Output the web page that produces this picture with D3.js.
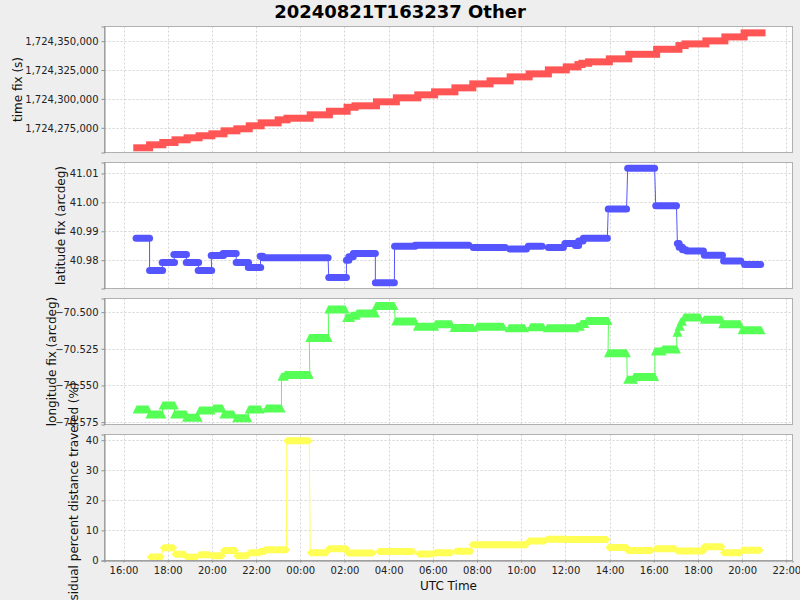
<!DOCTYPE html>
<html><head><meta charset="utf-8">
<script src="https://cdn.jsdelivr.net/npm/d3@7"></script>
<style>
body{margin:0;background:#eeeeee;}
svg{display:block;font-family:"DejaVu Sans",sans-serif;}
</style>
</head><body>
<svg id="chart" width="800" height="600"></svg>
<script>
// ---------------- DATA (x = hours since 2024-08-21 00:00 UTC) ----------------
const chartTitle = "20240821T163237 Other";
const xLabel = "UTC Time";
const yLabels = ["time fix (s)", "latitude fix (arcdeg)", "longitude fix (arcdeg)", "residual percent distance traveled (%)"];

// time fix (s): step segments [start hour, end hour, value]
const timeFixStart = [16.60,17.18,17.78,18.33,18.88,19.42,20.00,20.55,21.13,21.69,22.23,23.00,23.40,24.45,25.32,26.12,26.48,27.45,28.35,29.32,30.08,31.00,31.81,32.59,33.50,34.36,35.23,36.04,36.57,36.75,37.05,37.99,38.87,40.13,41.14,41.42,42.36,43.22,44.09];
const timeFixEnd   = [17.18,17.78,18.33,18.88,19.42,20.00,20.55,21.13,21.69,22.23,23.00,23.40,24.45,25.32,26.12,26.48,27.45,28.35,29.32,30.08,31.00,31.81,32.59,33.50,34.36,35.23,36.04,36.57,36.75,37.05,37.99,38.87,40.13,41.14,41.42,42.36,43.22,44.09,44.90];
const timeFixValue = [1724257700,1724260300,1724262300,1724264600,1724266350,1724268100,1724269800,1724272400,1724274150,1724276750,1724279300,1724281900,1724283300,1724286250,1724289350,1724292800,1724294050,1724297500,1724300950,1724303550,1724306150,1724309600,1724313050,1724315650,1724319100,1724321700,1724325150,1724327750,1724329750,1724330900,1724332100,1724334700,1724338650,1724343000,1724346200,1724347650,1724350250,1724353700,1724357200];

// latitude fix (arcdeg)
const latStart = [16.57,17.18,17.75,18.28,18.84,19.38,19.97,20.50,21.10,21.65,22.19,22.30,25.29,26.09,26.20,26.40,27.40,28.27,29.20,31.83,33.49,34.32,35.23,35.98,36.45,36.60,36.81,37.94,38.82,40.09,41.07,41.15,41.30,41.49,42.29,43.16,44.11];
const latEnd   = [17.18,17.77,18.31,18.85,19.40,19.99,20.53,21.10,21.66,22.21,22.30,25.26,26.09,26.20,26.40,27.40,28.26,29.20,31.63,33.28,34.24,34.95,35.91,36.45,36.60,36.80,37.90,38.77,40.04,41.03,41.15,41.30,41.45,42.25,43.11,43.94,44.84];
const latValue = [40.9876,40.9764,40.9792,40.9820,40.9792,40.9764,40.9816,40.9823,40.9792,40.9775,40.9814,40.9808,40.9740,40.9800,40.9812,40.9823,40.9722,40.9848,40.9852,40.9844,40.9839,40.9848,40.9844,40.9858,40.9851,40.9866,40.9876,40.9977,41.0118,40.9988,40.9858,40.9845,40.9836,40.9832,40.9817,40.9797,40.9785];

// longitude fix (arcdeg)
const lonStart = [16.59,17.17,17.77,18.29,18.83,19.43,20.07,20.52,21.10,21.67,22.46,23.15,23.30,24.41,25.27,26.08,26.30,26.56,27.42,28.30,29.28,30.11,30.94,31.99,33.44,34.42,35.17,36.50,36.70,36.96,37.93,38.80,39.10,40.05,40.40,41.03,41.12,41.22,41.36,42.27,43.10,43.98];
const lonEnd   = [17.13,17.76,18.32,18.85,19.40,19.98,20.48,20.99,21.64,22.20,23.15,23.30,24.43,25.28,26.05,26.30,26.55,27.42,28.26,29.22,30.10,30.85,31.84,33.20,34.17,35.01,36.44,36.70,36.90,37.95,38.78,39.10,40.06,40.40,41.05,41.12,41.22,41.32,42.10,43.09,43.92,44.87];
const lonValue = [-70.5663,-70.5697,-70.5636,-70.5697,-70.5720,-70.5671,-70.5657,-70.5697,-70.5724,-70.5663,-70.5657,-70.5440,-70.5429,-70.5176,-70.4982,-70.5040,-70.5025,-70.5009,-70.4958,-70.5063,-70.5100,-70.5082,-70.5108,-70.5099,-70.5110,-70.5103,-70.5110,-70.5100,-70.5080,-70.5061,-70.5280,-70.5461,-70.5443,-70.5268,-70.5254,-70.5140,-70.5100,-70.5065,-70.5037,-70.5052,-70.5083,-70.5123];

// residual percent distance traveled (%)
const resStart = [17.20,17.80,18.33,18.86,19.43,19.99,20.52,21.12,21.70,22.18,22.40,23.39,24.45,25.28,26.14,27.55,29.36,30.11,31.02,31.77,34.34,35.17,36.00,37.97,38.80,40.08,41.06,42.27,43.15,44.01];
const resEnd   = [17.71,18.27,18.77,19.30,19.90,20.48,21.07,21.60,22.17,22.40,23.38,24.41,25.19,26.10,27.30,29.12,30.02,30.85,31.73,34.25,35.08,36.00,37.88,38.78,39.91,40.97,42.26,43.09,43.92,44.82];
const resValue = [1.2,4.2,2.1,1.1,1.9,1.6,3.3,1.6,2.6,3.0,3.6,39.8,2.6,3.9,2.5,3.0,2.2,2.6,3.1,5.2,6.5,7.1,7.0,4.3,3.3,3.9,3.2,4.55,2.6,3.4];

// axis ranges and tick values
const xRangeHours = [15.14, 46.28];
const timeFixRange = [1724253633, 1724362716];
const timeFixTicks = [1724275000, 1724300000, 1724325000, 1724350000];
const latRange = [40.9702, 41.0138];
const latTicks = [40.98, 40.99, 41.00, 41.01];
const lonRange = [-70.5766, -70.4907];
const lonTicks = [-70.575, -70.550, -70.525, -70.500];
const resRange = [0, 41.9];
const resTicks = [0, 10, 20, 30, 40];

// ---------------- DRAWING ----------------
const svg = d3.select("#chart");
const base = Date.UTC(2024, 7, 21);
const toDate = h => new Date(base + h * 3600000);
const L = 104.5, R = 792.5;
const x = d3.scaleUtc().domain(xRangeHours.map(toDate)).range([L, R]);
const xTicks = x.ticks(d3.utcHour.every(2));
const fmtX = d3.utcFormat("%H:%M");

const panels = [
  {top:26.5, bottom:152.5, range:timeFixRange, ticks:timeFixTicks, fmt:d3.format(",d"), label:yLabels[0], labelX:18,
   s:timeFixStart, e:timeFixEnd, v:timeFixValue, color:"#ff5555", shape:"square", size:3.5},
  {top:162.5, bottom:288.5, range:latRange, ticks:latTicks, fmt:d3.format(".2f"), label:yLabels[1], labelX:60.5,
   s:latStart, e:latEnd, v:latValue, color:"#5555ff", shape:"circle", size:3.5},
  {top:298.5, bottom:424.5, range:lonRange, ticks:lonTicks, fmt:d3.format(".3f"), label:yLabels[2], labelX:51.5,
   s:lonStart, e:lonEnd, v:lonValue, color:"#55ff55", shape:"triangle", size:4},
  {top:434.5, bottom:560.5, range:resRange, ticks:resTicks, fmt:d3.format("d"), label:yLabels[3], labelX:73.5,
   s:resStart, e:resEnd, v:resValue, color:"#ffff55", shape:"diamond", size:3.5}
];

svg.append("text").attr("x", 400).attr("y", 18).attr("text-anchor", "middle")
  .attr("font-size", 18).attr("font-weight", "bold").attr("fill", "#000").text(chartTitle);

panels.forEach((p, i) => {
  const S = p.size;
  const y = d3.scaleLinear().domain(p.range).range([p.bottom, p.top]);
  const g = svg.append("g");
  g.append("rect").attr("x", L).attr("y", p.top).attr("width", R - L).attr("height", p.bottom - p.top).attr("fill", "#fff");
  const clipId = "clip" + i;
  svg.append("clipPath").attr("id", clipId).append("rect").attr("x", L).attr("y", p.top).attr("width", R - L).attr("height", p.bottom - p.top);
  // grid
  g.selectAll(".gx").data(xTicks).join("line")
    .attr("x1", d => Math.round(x(d)) + 0.5).attr("x2", d => Math.round(x(d)) + 0.5)
    .attr("y1", p.top).attr("y2", p.bottom)
    .attr("stroke", "#d4d4d4").attr("stroke-width", 1).attr("stroke-dasharray", "2,2");
  g.selectAll(".gy").data(p.ticks).join("line")
    .attr("y1", d => Math.round(y(d)) + 0.5).attr("y2", d => Math.round(y(d)) + 0.5)
    .attr("x1", L).attr("x2", R)
    .attr("stroke", "#d4d4d4").attr("stroke-width", 1).attr("stroke-dasharray", "2,2");
  // data
  const segs = p.s.map((s, k) => ({s: s, e: p.e[k], v: p.v[k]}));
  const pts = [];
  segs.forEach(d => { pts.push([d.s, d.v]); pts.push([d.e, d.v]); });
  const dg = g.append("g").attr("clip-path", `url(#${clipId})`);
  dg.append("path").datum(pts)
    .attr("d", d3.line().x(d => x(toDate(d[0]))).y(d => y(d[1])))
    .attr("fill", "none").attr("stroke", p.color).attr("stroke-width", 1);
  const sh = dg.selectAll(".sh").data(segs);
  if (p.shape === "square" || p.shape === "circle") {
    sh.join("rect")
      .attr("x", d => x(toDate(d.s)) - S).attr("width", d => x(toDate(d.e)) - x(toDate(d.s)) + 2 * S)
      .attr("y", d => y(d.v) - S).attr("height", 2 * S)
      .attr("rx", p.shape === "circle" ? S : 0)
      .attr("fill", p.color);
  } else if (p.shape === "triangle") {
    sh.join("path").attr("d", d => {
      const x0 = x(toDate(d.s)), x1 = x(toDate(d.e)), yy = y(d.v);
      return `M${x0 - S},${yy + S}L${x0},${yy - S}L${x1},${yy - S}L${x1 + S},${yy + S}Z`;
    }).attr("fill", p.color);
  } else {
    sh.join("path").attr("d", d => {
      const x0 = x(toDate(d.s)), x1 = x(toDate(d.e)), yy = y(d.v);
      return `M${x0 - S},${yy}L${x0},${yy - S}L${x1},${yy - S}L${x1 + S},${yy}L${x1},${yy + S}L${x0},${yy + S}Z`;
    }).attr("fill", p.color);
  }
  // outline
  g.append("rect").attr("x", L).attr("y", p.top).attr("width", R - L).attr("height", p.bottom - p.top)
    .attr("fill", "none").attr("stroke", "#b0b0b0").attr("stroke-width", 1);
  // y axis
  const ya = d3.axisLeft(y).tickValues(p.ticks).tickFormat(p.fmt).tickSize(3).tickPadding(3);
  const yg = g.append("g").attr("transform", `translate(${L},0)`).call(ya);
  yg.select(".domain").attr("stroke", "#909090");
  yg.selectAll(".tick line").attr("stroke", "#909090");
  yg.selectAll(".tick text").attr("font-size", 10).attr("fill", "#222").attr("font-family", "DejaVu Sans");
  // y label
  const cy = (p.top + p.bottom) / 2;
  svg.append("text").attr("transform", `translate(${p.labelX},${cy}) rotate(-90)`)
    .attr("text-anchor", "middle").attr("dy", "0.35em").attr("font-size", 12).attr("fill", "#111").text(p.label);
  if (i === 3) {
    const xa = d3.axisBottom(x).tickValues(xTicks).tickFormat(fmtX).tickSize(2).tickPadding(4);
    const xg = g.append("g").attr("transform", `translate(0,${p.bottom})`).call(xa);
    xg.select(".domain").attr("stroke", "#909090");
    xg.selectAll(".tick line").attr("stroke", "#909090");
    xg.selectAll(".tick text").attr("font-size", 10).attr("fill", "#222").attr("font-family", "DejaVu Sans");
  }
});
svg.append("text").attr("x", (L + R) / 2).attr("y", 590).attr("text-anchor", "middle")
  .attr("font-size", 12).attr("fill", "#111").text(xLabel);
</script>
</body></html>
